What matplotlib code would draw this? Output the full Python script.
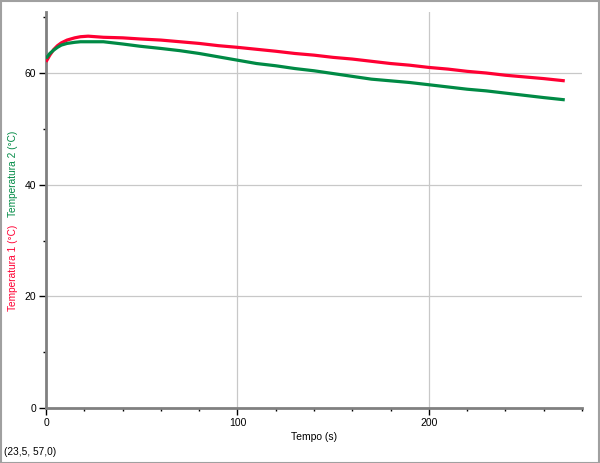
import matplotlib
matplotlib.use("Agg")
import matplotlib.pyplot as plt
from matplotlib.patches import Rectangle
from matplotlib.ticker import MultipleLocator

time_s = [0, 2, 4, 6, 8, 11, 15, 18, 22, 26, 30, 35, 40, 49, 60, 70, 80, 90, 100,
          110, 120, 130, 140, 150, 160, 170, 180, 190, 200, 210, 220, 230, 240, 250, 260, 271]
temp1 = [62.0, 63.2, 64.2, 64.9, 65.4, 65.9, 66.3, 66.5, 66.6, 66.5, 66.4, 66.35, 66.3, 66.1, 65.9,
         65.6, 65.3, 64.9, 64.6, 64.25, 63.9, 63.5, 63.2, 62.8, 62.5, 62.1, 61.7, 61.4, 61.0,
         60.7, 60.3, 60.0, 59.6, 59.3, 59.0, 58.6]
temp2 = [62.6, 63.5, 64.1, 64.6, 65.0, 65.3, 65.5, 65.6, 65.6, 65.6, 65.6, 65.4, 65.2, 64.8, 64.4,
         64.0, 63.5, 62.9, 62.3, 61.7, 61.3, 60.8, 60.4, 59.9, 59.4, 58.9, 58.6, 58.3, 57.9,
         57.5, 57.1, 56.8, 56.4, 56.0, 55.6, 55.2]

x_label = "Tempo (s)"
y_label1 = "Temperatura 1 (°C)"
y_label2 = "Temperatura 2 (°C)"
status_text = "(23,5, 57,0)"

RED = "#ff0033"
GREEN = "#008a45"
GRAY = "#808080"
FONT = "Liberation Sans"

fig = plt.figure(figsize=(6.0, 4.63), dpi=100)
ax = fig.add_axes([46/600, 55/463, 536/600, (408-11.6)/463])

ax.plot(time_s, temp1, color=RED, lw=2.3, solid_capstyle="butt", zorder=3)
ax.plot(time_s, temp2, color=GREEN, lw=2.3, solid_capstyle="butt", zorder=3)

ax.set_xlim(0, 280)
ax.set_ylim(0, 71)
ax.xaxis.set_major_locator(MultipleLocator(100))
ax.xaxis.set_minor_locator(MultipleLocator(20))
ax.yaxis.set_major_locator(MultipleLocator(20))
ax.yaxis.set_minor_locator(MultipleLocator(10))
ax.grid(True, which="major", color="#c8c8c8", lw=0.9)
ax.set_axisbelow(True)

for s in ["top", "right"]:
    ax.spines[s].set_visible(False)
for s in ["left", "bottom"]:
    ax.spines[s].set_color(GRAY)
    ax.spines[s].set_linewidth(2.0)

ax.tick_params(which="major", length=5, width=1, color="black", labelsize=7.5, pad=2)
ax.tick_params(which="minor", length=2.5, width=1, color="black")
for lab in ax.get_xticklabels() + ax.get_yticklabels():
    lab.set_family(FONT)

ax.set_xlabel(x_label, fontsize=7.5, labelpad=3, family=FONT)

fig.text(13/600, 1 - 268/463, y_label1, color=RED, rotation=90, fontsize=7.3,
         ha="center", va="center", family=FONT)
fig.text(13/600, 1 - 174/463, y_label2, color=GREEN, rotation=90, fontsize=7.3,
         ha="center", va="center", family=FONT)
fig.text(4/600, 1 - 452/463, status_text, fontsize=7.3, ha="left", va="center", family=FONT)

fig.patches.append(Rectangle((0.5/600, 0.5/463), 598/600, 461.5/463, transform=fig.transFigure,
                             fill=False, edgecolor="#a0a0a0", lw=1.5))

fig.savefig("out.png", dpi=100)
